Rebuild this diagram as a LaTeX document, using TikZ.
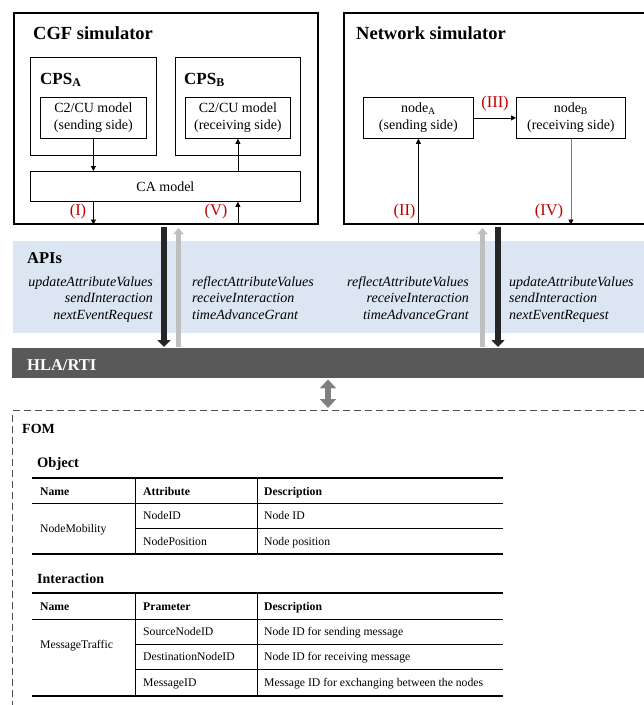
\documentclass[tikz,border=0pt]{standalone}
\usepackage{fontspec}
\setmainfont{Liberation Serif}
\usetikzlibrary{arrows.meta}
\definecolor{apiblue}{HTML}{DCE6F2}
\definecolor{hlagray}{HTML}{595959}
\definecolor{labred}{HTML}{C00000}
\definecolor{darkarr}{HTML}{262626}
\definecolor{lightarr}{HTML}{BFBFBF}
\definecolor{midarr}{HTML}{808080}
\definecolor{dashgray}{HTML}{4D4D4D}
\begin{document}
\begin{tikzpicture}[x=1pt,y=-1pt,
  outerbox/.style={draw, line width=1.5pt, anchor=north west, inner sep=0pt},
  cpsbox/.style={draw, line width=1pt, anchor=north west, inner sep=0pt},
  modelbox/.style={draw, line width=0.8pt, anchor=north west, inner sep=0pt, align=center, font=\fontsize{14}{17}\selectfont},
  title/.style={anchor=base west, inner sep=0pt, font=\bfseries\fontsize{18.5}{21}\selectfont},
  cpstitle/.style={anchor=base west, inner sep=0pt, font=\bfseries\fontsize{17}{19}\selectfont},
  arr/.style={line width=0.8pt, -{Triangle[length=5pt,width=5pt]}},
  lab/.style={text=labred, inner sep=0pt, font=\fontsize{16.5}{18}\selectfont},
  apir/.style={anchor=base east, inner sep=0pt, font=\itshape\fontsize{14}{16}\selectfont},
  apil/.style={anchor=base west, inner sep=0pt, font=\itshape\fontsize{14}{16}\selectfont},
  sect/.style={anchor=base west, inner sep=0pt, font=\bfseries\fontsize{14}{16}\selectfont},
  cell/.style={anchor=base west, inner sep=0pt, font=\fontsize{11.7}{13}\selectfont},
  hcell/.style={anchor=base west, inner sep=0pt, font=\bfseries\fontsize{11.7}{13}\selectfont},
  thickrule/.style={line width=1.5pt},
  thinrule/.style={line width=0.8pt}
]
\useasboundingbox (0,0) rectangle (644,705);
\clip (0,0) rectangle (644,705);

% ---------------- CGF simulator ----------------
\node[outerbox, minimum width=304pt, minimum height=211pt] (cgf) at (13,12) {};
\node[title] (cgft) at (33,39) {CGF simulator};
\node[cpsbox, minimum width=126pt, minimum height=98pt] (cpsa) at (30,57) {};
\node[cpsbox, minimum width=125pt, minimum height=98pt] (cpsb) at (175,57) {};
\node[cpstitle] (cpsat) at (40,84) {CPS\textsubscript{A}};
\node[cpstitle] (cpsbt) at (184,84) {CPS\textsubscript{B}};
\node[modelbox, minimum width=106pt, minimum height=41pt] (c2a) at (40,97) {C2/CU model\\(sending side)};
\node[modelbox, minimum width=105pt, minimum height=41pt] (c2b) at (185,97) {C2/CU model\\(receiving side)};
\node[modelbox, minimum width=270pt, minimum height=30pt] (ca) at (30,171) {CA model};

\draw[arr] (c2a.south) -- (c2a.south |- ca.north);
\draw[arr] (c2b.south |- ca.north) -- (c2b.south);
\draw[arr] (c2a.south |- ca.south) -- (c2a.south |- cgf.south);
\draw[arr] (c2b.south |- cgf.south) -- (c2b.south |- ca.south);
\node[lab] (l1) at (78,212) {(I)};
\node[lab] (l5) at (216,212) {(V)};

% ---------------- Network simulator ----------------
\node[outerbox, minimum width=330pt, minimum height=211pt] (net) at (343,12) {};
\node[title] (nett) at (356,39) {Network simulator};
\node[modelbox, minimum width=110pt, minimum height=41pt] (nodea) at (363,97) {node\textsubscript{A}\\(sending side)};
\node[modelbox, minimum width=109pt, minimum height=41pt] (nodeb) at (516,97) {node\textsubscript{B}\\(receiving side)};
\draw[arr] (nodea.east) -- (nodeb.west);
\draw[arr] (nodea.south |- net.south) -- (nodea.south);
\draw[line width=0.8pt, midarr, -{Triangle[length=5pt,width=5pt,color=black]}] (nodeb.south) -- (nodeb.south |- net.south);
\node[lab] (l3) at (495,104) {(III)};
\node[lab] (l2) at (404.5,212) {(II)};
\node[lab] (l4) at (549,212) {(IV)};

% ---------------- APIs band ----------------
\node[fill=apiblue, anchor=north west, inner sep=0pt, minimum width=660pt, minimum height=92pt] (apis) at (13,241) {};
\node[sect, font=\bfseries\fontsize{16.5}{18}\selectfont] (apit) at (27,263) {APIs};
\node[apir] (a1) at (153,286) {updateAttributeValues};
\node[apir] (a2) at (153,302.5) {sendInteraction};
\node[apir] (a3) at (153,319) {nextEventRequest};
\node[apil] (b1) at (192,286) {reflectAttributeValues};
\node[apil] (b2) at (192,302.5) {receiveInteraction};
\node[apil] (b3) at (192,319) {timeAdvanceGrant};
\node[apir] (c1) at (469,286) {reflectAttributeValues};
\node[apir] (c2) at (469,302.5) {receiveInteraction};
\node[apir] (c3) at (469,319) {timeAdvanceGrant};
\node[apil] (d1) at (509,286) {updateAttributeValues};
\node[apil] (d2) at (509,302.5) {sendInteraction};
\node[apil] (d3) at (509,319) {nextEventRequest};

% ---------------- HLA/RTI band ----------------
\node[fill=hlagray, anchor=north west, inner sep=0pt, minimum width=660pt, minimum height=30pt] (hla) at (12,348) {};
\node[anchor=base west, inner sep=0pt, text=white, font=\bfseries\fontsize{16.5}{18}\selectfont] (hlat) at (27,370) {HLA/RTI};

% big arrows between simulators and HLA/RTI
\coordinate (blkL) at (164,227);
\coordinate (gryL) at (178.5,228);
\coordinate (gryR) at (482.5,228);
\coordinate (blkR) at (498,227);
\draw[line width=6.5pt, darkarr, -{Triangle[width=13pt,length=7pt]}] (blkL) -- ([yshift=1pt]blkL |- hla.north);
\draw[line width=5pt, lightarr, -{Triangle[width=10pt,length=6pt]}] ([yshift=1pt]gryL |- hla.north) -- (gryL);
\draw[line width=5pt, lightarr, -{Triangle[width=10pt,length=6pt]}] ([yshift=1pt]gryR |- hla.north) -- (gryR);
\draw[line width=6.5pt, darkarr, -{Triangle[width=13pt,length=7pt]}] (blkR) -- ([yshift=1pt]blkR |- hla.north);

% ---------------- FOM ----------------
\node[draw=dashgray, dash pattern=on 7pt off 4pt, line width=1.2pt, anchor=north west, inner sep=0pt, minimum width=700pt, minimum height=400pt] (fom) at (12,410) {};
\coordinate (dbl) at (328,0);
\draw[line width=6pt, midarr, {Triangle[width=16pt,length=9pt]}-{Triangle[width=16pt,length=9pt]}] ([yshift=-1pt]dbl |- hla.south) -- ([yshift=2pt]dbl |- fom.north);

\node[sect] (fomt) at (22,433) {FOM};

% Object table
\node[sect, font=\bfseries\fontsize{14.5}{16}\selectfont] (objt) at (37,467) {Object};
\draw[thickrule] (32,478) -- (503,478);
\draw[thinrule] (32,503) -- (503,503);
\draw[thinrule] (135,528) -- (503,528);
\draw[thickrule] (32,554) -- (503,554);
\draw[thinrule] (135,478) -- (135,554);
\draw[thinrule] (257,478) -- (257,554);
\node[hcell] (o11) at (40,495) {Name};
\node[hcell] (o12) at (143,495) {Attribute};
\node[hcell] (o13) at (264,495) {Description};
\node[cell] (o21) at (40,532.5) {NodeMobility};
\node[cell] (o22) at (143,519.5) {NodeID};
\node[cell] (o23) at (264,519.5) {Node ID};
\node[cell] (o32) at (143,545) {NodePosition};
\node[cell] (o33) at (264,545) {Node position};

% Interaction table
\node[sect] (intt) at (37,583) {Interaction};
\draw[thickrule] (32,593) -- (503,593);
\draw[thinrule] (32,619) -- (503,619);
\draw[thinrule] (135,644) -- (503,644);
\draw[thinrule] (135,669) -- (503,669);
\draw[thickrule] (32,696) -- (503,696);
\draw[thinrule] (135,593) -- (135,696);
\draw[thinrule] (257,593) -- (257,696);
\node[hcell] (i11) at (40,610) {Name};
\node[hcell] (i12) at (143,610) {Prameter};
\node[hcell] (i13) at (264,610) {Description};
\node[cell] (i21) at (40,648.5) {MessageTraffic};
\node[cell] (i22) at (143,635.5) {SourceNodeID};
\node[cell] (i23) at (264,635.5) {Node ID for sending message};
\node[cell] (i32) at (143,660.5) {DestinationNodeID};
\node[cell] (i33) at (264,660.5) {Node ID for receiving message};
\node[cell] (i42) at (143,686.5) {MessageID};
\node[cell] (i43) at (264,686.5) {Message ID for exchanging between the nodes};
\end{tikzpicture}
\end{document}
